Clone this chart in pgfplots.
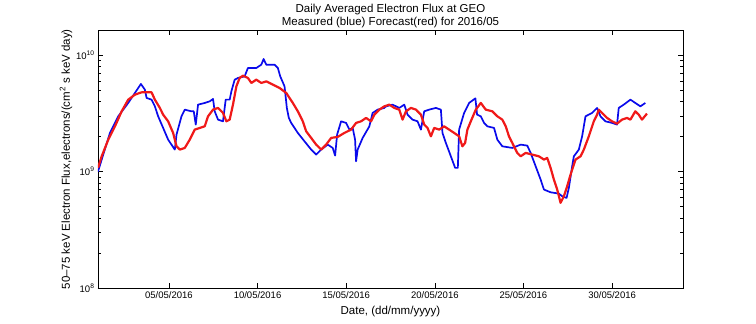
\documentclass[border=0pt]{standalone}
\usepackage{pgfplots}
\pgfplotsset{compat=1.18}
\usepackage{fontspec}
\setmainfont{Liberation Sans}
\definecolor{measblue}{RGB}{10,10,235}
\definecolor{forered}{RGB}{240,25,25}
\begin{document}
\begin{tikzpicture}[x=1pt,y=1pt]
\path[use as bounding box] (0,0) rectangle (756,324);
\begin{axis}[
  at={(98pt,36pt)}, anchor=south west,
  width=585pt, height=257.5pt, scale only axis,
  xmin=1, xmax=34, ymode=log, ymin=1e8, ymax=1.63e10,
  xtick={5,10,15,20,25,30},
  xticklabels={05/05/2016,10/05/2016,15/05/2016,20/05/2016,25/05/2016,30/05/2016},
  ytick={1e8,1e9,1e10},
  yticklabels={10\textsuperscript{8},10\textsuperscript{9},10\textsuperscript{10}},
  tick align=inside, tick pos=both,
  major tick length=5pt, minor tick length=3pt,
  tick label style={font=\fontsize{9.5}{10}\selectfont},
  label style={font=\fontsize{11.5}{12}\selectfont},
  xlabel={Date, (dd/mm/yyyy)},
  xlabel style={yshift=-1pt},
  ylabel={50--75 keV Electron Flux,electrons/(cm\textsuperscript{2} s keV day)},
  ylabel style={yshift=-3pt},
  title style={align=center, font=\fontsize{11.5}{13.5}\selectfont, yshift=-7pt},
  title={Daily Averaged Electron Flux at GEO\\Measured (blue) Forecast(red) for 2016/05},
  axis line style={line width=0.8pt},
  every tick/.style={black, line width=0.6pt},
]
\addplot[measblue, line width=1.7pt, line join=round] coordinates {
(1.000,1.000e9) (1.208,1.268e9) (1.675,2.149e9) (2.142,2.984e9) (2.705,3.888e9)
(3.082,4.738e9) (3.420,5.660e9) (3.645,5.058e9) (3.741,4.292e9) (4.022,4.150e9)
(4.208,3.636e9) (4.393,2.984e9) (4.675,2.372e9) (4.956,1.882e9) (5.333,1.545e9)
(5.429,2.078e9) (5.710,2.984e9) (5.896,3.406e9) (6.273,3.294e9) (6.402,3.294e9)
(6.515,2.532e9) (6.644,3.760e9) (7.021,3.888e9) (7.303,4.013e9) (7.489,4.207e9)
(7.584,3.294e9) (7.770,2.795e9) (8.051,2.703e9) (8.203,4.150e9) (8.428,4.150e9)
(8.524,4.891e9) (8.710,6.162e9) (8.895,6.372e9) (9.272,6.577e9) (9.458,7.765e9)
(9.931,7.765e9) (10.212,8.286e9) (10.342,9.277e9) (10.493,8.286e9) (10.961,8.286e9)
(11.146,7.765e9) (11.281,6.577e9) (11.523,5.399e9) (11.653,3.523e9) (11.765,2.891e9)
(11.900,2.618e9) (12.272,2.149e9) (12.649,1.820e9) (13.026,1.545e9) (13.307,1.399e9)
(13.589,1.545e9) (13.960,1.705e9) (14.241,1.597e9) (14.376,1.372e9) (14.489,2.078e9)
(14.714,2.703e9) (14.996,2.618e9) (15.181,2.294e9) (15.367,2.372e9) (15.502,1.882e9)
(15.558,1.226e9) (15.648,1.545e9) (15.930,1.947e9) (16.307,2.448e9) (16.492,3.191e9)
(16.774,3.406e9) (17.151,3.523e9) (17.246,3.636e9) (17.618,3.760e9) (17.995,3.523e9)
(18.276,3.760e9) (18.462,3.086e9) (18.743,2.795e9) (19.025,2.703e9) (19.216,2.294e9)
(19.402,3.294e9) (19.683,3.406e9) (20.060,3.523e9) (20.342,3.406e9) (20.432,2.149e9)
(20.623,1.764e9) (20.905,1.353e9) (21.146,1.076e9) (21.298,1.076e9) (21.371,2.294e9)
(21.653,3.191e9) (21.934,3.888e9) (22.289,4.258e9) (22.384,3.086e9) (22.593,2.984e9)
(22.778,2.618e9) (22.964,2.448e9) (23.341,2.372e9) (23.527,1.882e9) (23.808,1.649e9)
(24.371,1.597e9) (24.844,1.705e9) (25.215,1.672e9) (25.406,1.447e9) (25.688,1.110e9)
(25.969,0.854e9) (26.155,0.701e9) (26.532,0.664e9) (26.999,0.647e9) (27.185,0.614e9)
(27.432,0.594e9) (27.562,0.725e9) (27.748,1.110e9) (27.843,1.353e9) (28.125,1.545e9)
(28.310,2.009e9) (28.501,2.984e9) (28.873,3.191e9) (29.154,3.523e9) (29.345,2.984e9)
(29.627,2.703e9) (29.998,2.618e9) (30.280,2.532e9) (30.375,3.523e9) (30.657,3.760e9)
(31.034,4.150e9) (31.309,3.888e9) (31.596,3.636e9) (31.877,3.888e9)
};
\addplot[forered, line width=2.2pt, line join=round] coordinates {
(1.000,1.076e9) (1.208,1.353e9) (1.580,1.882e9) (1.957,2.448e9) (2.334,3.294e9)
(2.705,4.150e9) (3.082,4.581e9) (3.459,4.795e9) (4.022,4.795e9) (4.208,4.150e9)
(4.489,3.523e9) (4.675,3.086e9) (4.956,2.703e9) (5.238,2.149e9) (5.429,1.649e9)
(5.615,1.545e9) (5.896,1.597e9) (6.177,1.882e9) (6.459,2.294e9) (6.740,2.372e9)
(7.021,2.448e9) (7.207,2.984e9) (7.489,3.406e9) (7.770,3.523e9) (8.051,3.191e9)
(8.242,2.703e9) (8.428,2.795e9) (8.614,3.760e9) (8.805,5.399e9) (8.991,6.372e9)
(9.177,6.668e9) (9.458,6.372e9) (9.650,5.773e9) (9.931,6.162e9) (10.212,5.773e9)
(10.493,5.958e9) (10.865,5.583e9) (11.242,5.231e9) (11.619,4.738e9) (11.990,3.888e9)
(12.272,3.294e9) (12.553,2.703e9) (12.744,2.218e9) (13.026,1.947e9) (13.307,1.705e9)
(13.589,1.545e9) (13.870,1.705e9) (14.151,1.947e9) (14.523,1.986e9) (14.900,2.149e9)
(15.277,2.294e9) (15.558,2.618e9) (15.840,2.703e9) (16.121,2.891e9) (16.403,2.703e9)
(16.588,3.086e9) (16.870,3.406e9) (17.151,3.636e9) (17.432,3.760e9) (17.714,3.523e9)
(17.995,3.406e9) (18.181,2.795e9) (18.372,3.294e9) (18.653,3.523e9) (18.935,3.406e9)
(19.216,3.086e9) (19.402,2.532e9) (19.588,2.372e9) (19.779,2.009e9) (19.965,2.372e9)
(20.246,2.294e9) (20.527,2.448e9) (20.809,2.294e9) (21.090,2.149e9) (21.371,2.009e9)
(21.557,1.649e9) (21.709,1.764e9) (21.838,2.294e9) (22.030,2.703e9) (22.311,3.406e9)
(22.593,3.888e9) (22.874,3.406e9) (23.245,3.294e9) (23.527,2.984e9) (23.808,2.795e9)
(23.999,2.448e9) (24.185,2.009e9) (24.371,1.764e9) (24.652,1.447e9) (24.844,1.353e9)
(25.125,1.447e9) (25.496,1.399e9) (25.873,1.353e9) (26.155,1.268e9) (26.340,1.311e9)
(26.532,1.076e9) (26.717,0.854e9) (26.903,0.701e9) (27.094,0.539e9) (27.280,0.614e9)
(27.466,0.748e9) (27.657,0.942e9) (27.938,1.268e9) (28.220,1.353e9) (28.406,1.545e9)
(28.687,2.009e9) (28.969,2.703e9) (29.154,3.086e9) (29.250,3.406e9) (29.435,3.191e9)
(29.717,2.891e9) (29.998,2.703e9) (30.280,2.580e9) (30.561,2.795e9) (30.843,2.891e9)
(31.034,2.795e9) (31.309,3.294e9) (31.501,3.086e9) (31.686,2.795e9) (31.967,3.147e9)
};
\end{axis}
\end{tikzpicture}
\end{document}
